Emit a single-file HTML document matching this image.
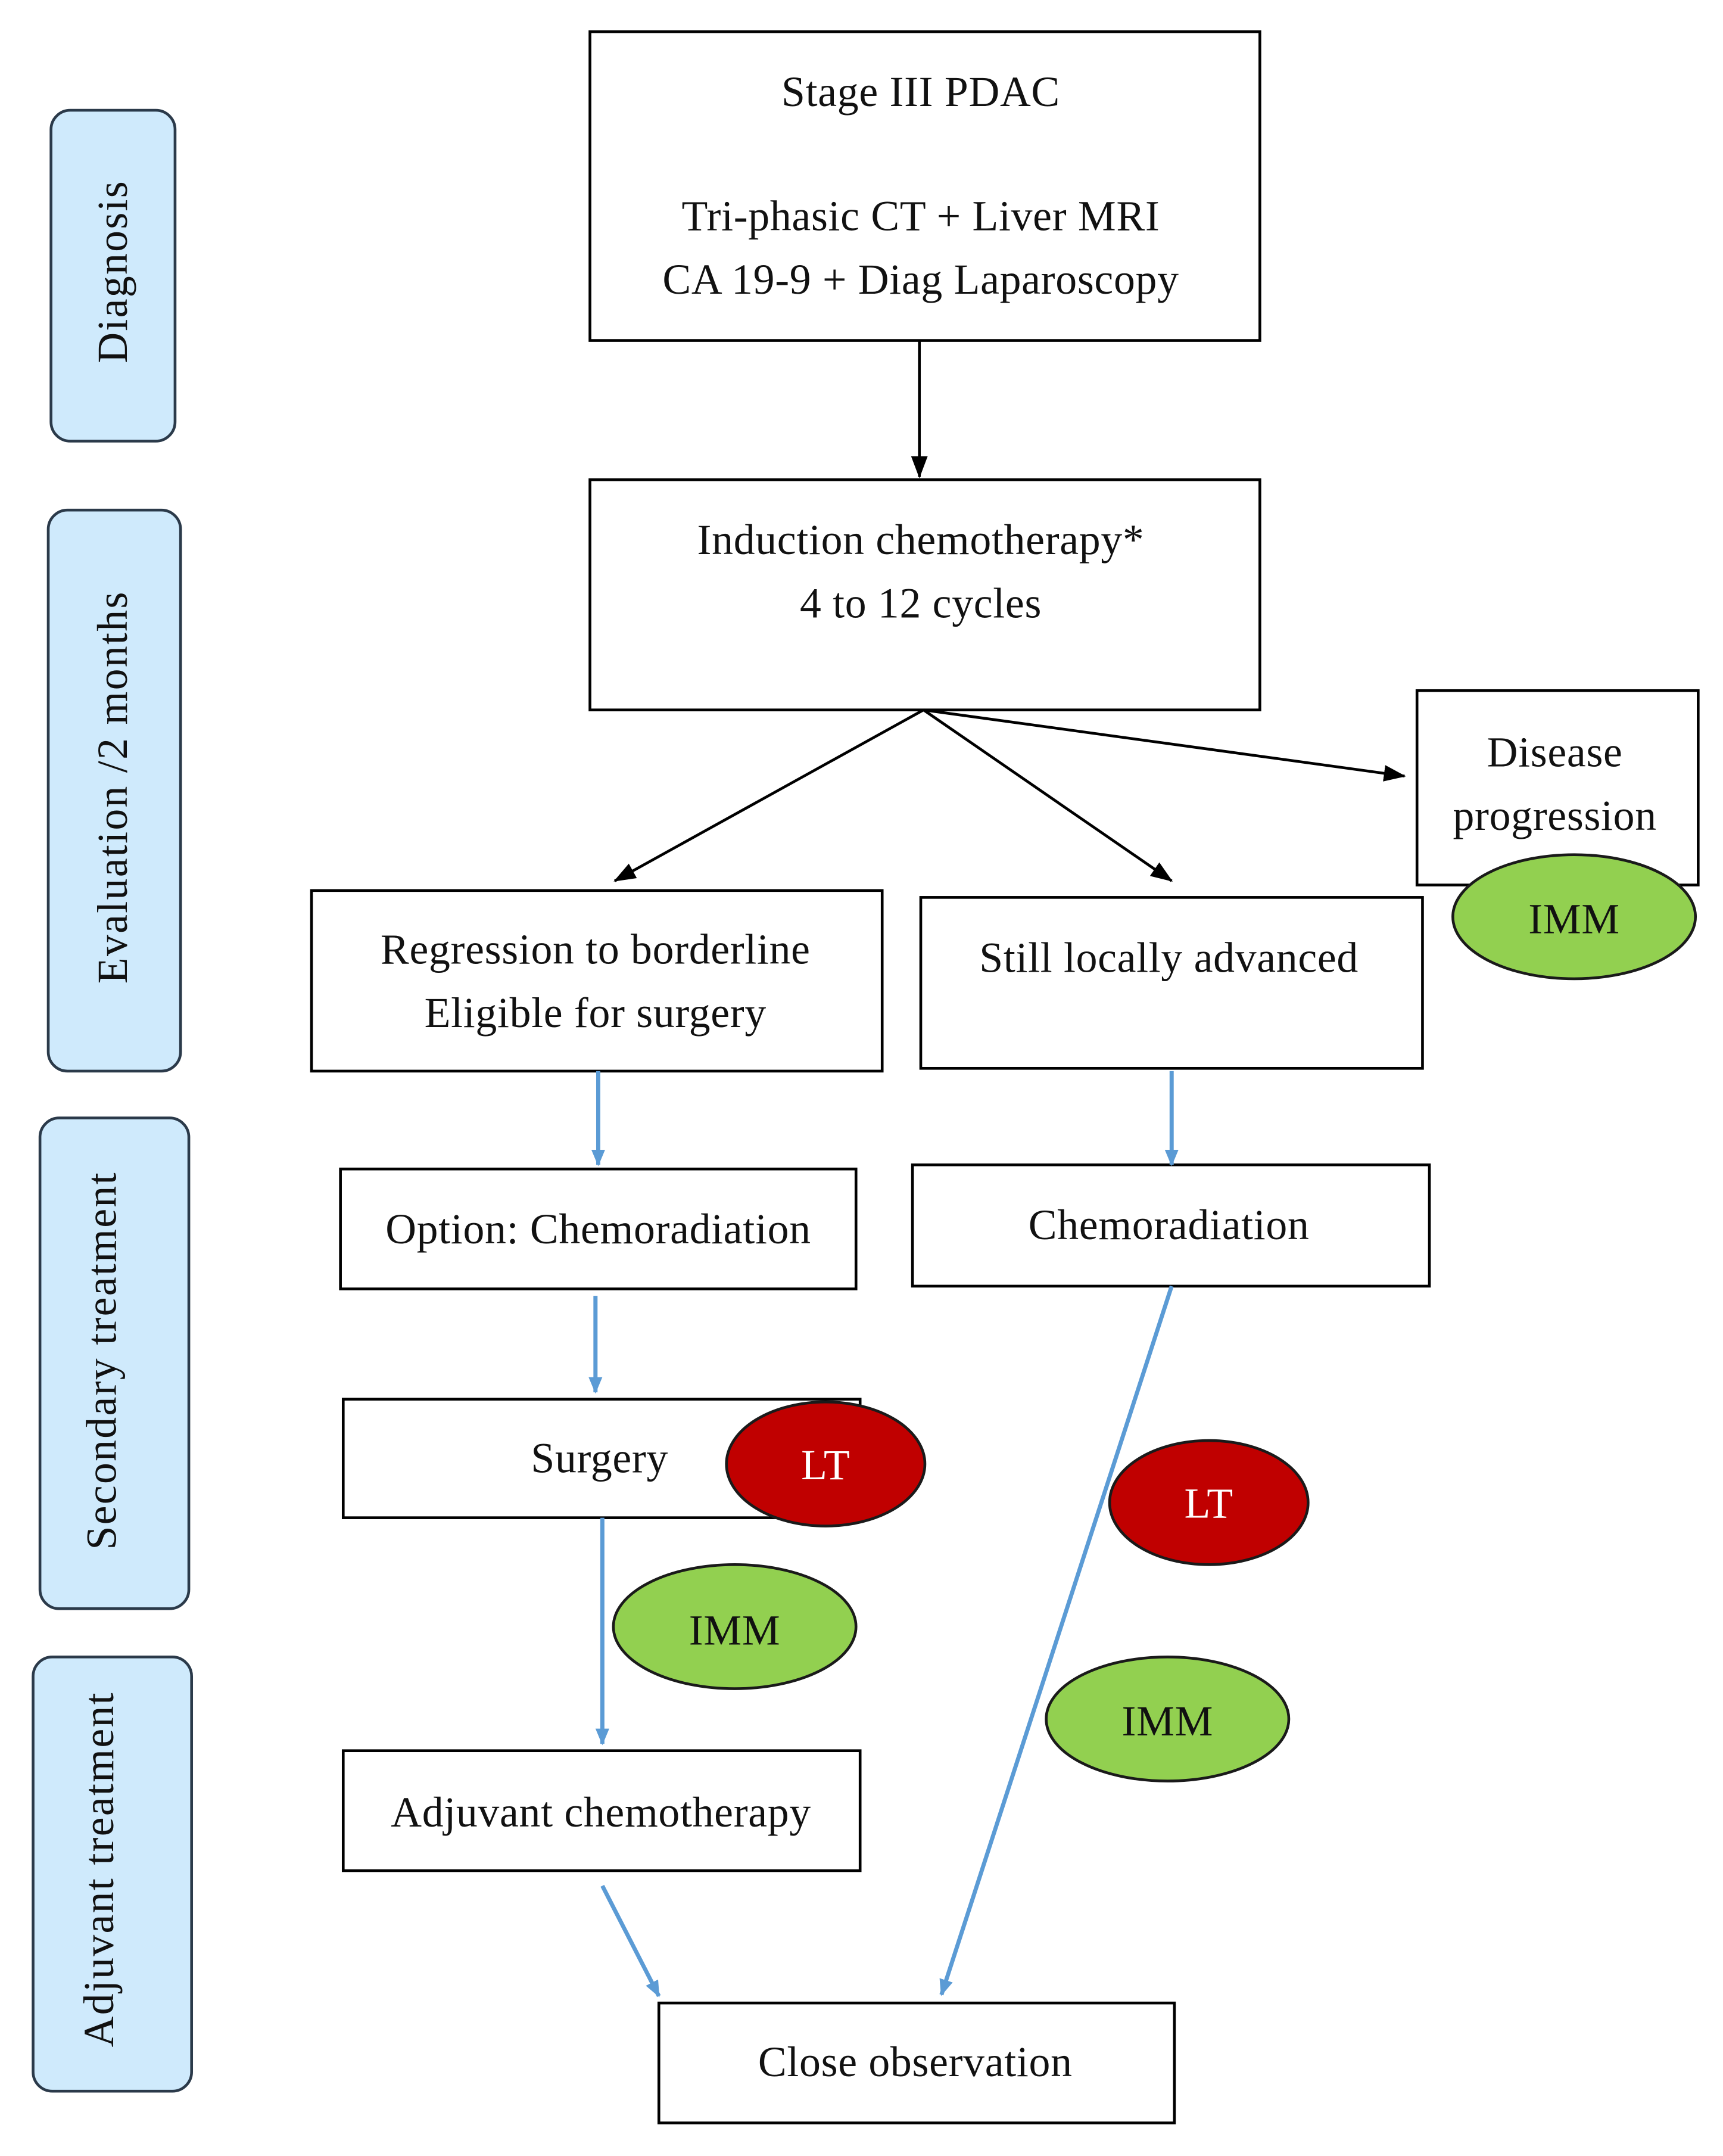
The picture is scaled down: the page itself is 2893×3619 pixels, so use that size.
<!DOCTYPE html>
<html><head><meta charset="utf-8"><style>
html,body{margin:0;padding:0;background:#fff;}
svg{display:block;}
text{font-family:"Liberation Serif",serif;font-size:31px;fill:#111;letter-spacing:0.3px;}
</style></head><body>
<svg width="2893" height="3619" viewBox="0 0 1250 1564" preserveAspectRatio="none" xmlns="http://www.w3.org/2000/svg">
<defs>
<marker id="ab" markerWidth="16" markerHeight="14" refX="15" refY="7" orient="auto" markerUnits="userSpaceOnUse"><path d="M0,1 L16,7 L0,13 z" fill="#000"/></marker>
<marker id="abl" markerWidth="12" markerHeight="12" refX="11" refY="6" orient="auto" markerUnits="userSpaceOnUse"><path d="M0,1 L12,6 L0,11 z" fill="#5b9bd5"/></marker>
</defs>
<g fill="#cfeafc" stroke="#2b3a4a" stroke-width="2">
<rect x="37" y="80" width="90" height="240" rx="14"/>
<rect x="35" y="370" width="96" height="407" rx="14"/>
<rect x="29" y="811" width="108" height="356" rx="14"/>
<rect x="24" y="1202" width="115" height="315" rx="14"/>
</g>
<text transform="translate(92,197) rotate(-90)" text-anchor="middle" style="letter-spacing:1px">Diagnosis</text>
<text transform="translate(92,571) rotate(-90)" text-anchor="middle" style="letter-spacing:1px">Evaluation /2 months</text>
<text transform="translate(84,987) rotate(-90)" text-anchor="middle" style="letter-spacing:1px">Secondary treatment</text>
<text transform="translate(82,1356) rotate(-90)" text-anchor="middle" style="letter-spacing:1px">Adjuvant treatment</text>

<g fill="#fff" stroke="#000" stroke-width="2">
<rect x="428" y="23" width="486" height="224"/>
<rect x="428" y="348" width="486" height="167"/>
<rect x="1028" y="501" width="204" height="141"/>
<rect x="226" y="646" width="414" height="131"/>
<rect x="668" y="651" width="364" height="124"/>
<rect x="247" y="848" width="374" height="87"/>
<rect x="662" y="845" width="375" height="88"/>
<rect x="249" y="1015" width="375" height="86"/>
<rect x="249" y="1270" width="375" height="87"/>
<rect x="478" y="1453" width="374" height="87"/>
</g>
<g stroke="#000" stroke-width="2" fill="none">
<line x1="667" y1="247" x2="667" y2="346" marker-end="url(#ab)"/>
<line x1="670" y1="515" x2="446" y2="639" marker-end="url(#ab)"/>
<line x1="670" y1="515" x2="850" y2="639" marker-end="url(#ab)"/>
<line x1="670" y1="515" x2="1019" y2="563" marker-end="url(#ab)"/>
</g>
<g stroke="#5b9bd5" stroke-width="3" fill="none">
<line x1="434" y1="777" x2="434" y2="845" marker-end="url(#abl)"/>
<line x1="850" y1="777" x2="850" y2="845" marker-end="url(#abl)"/>
<line x1="432" y1="940" x2="432" y2="1010" marker-end="url(#abl)"/>
<line x1="437" y1="1101" x2="437" y2="1265" marker-end="url(#abl)"/>
<line x1="437" y1="1368" x2="478" y2="1448" marker-end="url(#abl)"/>
<line x1="850" y1="933" x2="683" y2="1447" marker-end="url(#abl)"/>
</g>
<g stroke="#1a1a1a" stroke-width="2">
<ellipse cx="1142" cy="665" rx="88" ry="45" fill="#92d050"/>
<ellipse cx="599" cy="1062" rx="72" ry="45" fill="#c00000"/>
<ellipse cx="533" cy="1180" rx="88" ry="45" fill="#92d050"/>
<ellipse cx="877" cy="1090" rx="72" ry="45" fill="#c00000"/>
<ellipse cx="847" cy="1247" rx="88" ry="45" fill="#92d050"/>
</g>
<g text-anchor="middle">
<text x="668" y="77">Stage III PDAC</text>
<text x="668" y="167">Tri-phasic  CT + Liver MRI</text>
<text x="668" y="213">CA 19-9 + Diag Laparoscopy</text>
<text x="668" y="402">Induction chemotherapy*</text>
<text x="668" y="448">4 to 12 cycles</text>
<text x="1128" y="556">Disease</text>
<text x="1128" y="602">progression</text>
<text x="1142" y="677">IMM</text>
<text x="432" y="699">Regression to borderline</text>
<text x="432" y="745">Eligible  for surgery</text>
<text x="848" y="705">Still locally advanced</text>
<text x="434" y="902">Option: Chemoradiation</text>
<text x="848" y="899">Chemoradiation</text>
<text x="435" y="1068">Surgery</text>
<text x="599" y="1073" style="fill:#fff">LT</text>
<text x="533" y="1193">IMM</text>
<text x="877" y="1101" style="fill:#fff">LT</text>
<text x="847" y="1259">IMM</text>
<text x="436" y="1325">Adjuvant chemotherapy</text>
<text x="664" y="1506">Close observation</text>
</g>
</svg>
</body></html>
